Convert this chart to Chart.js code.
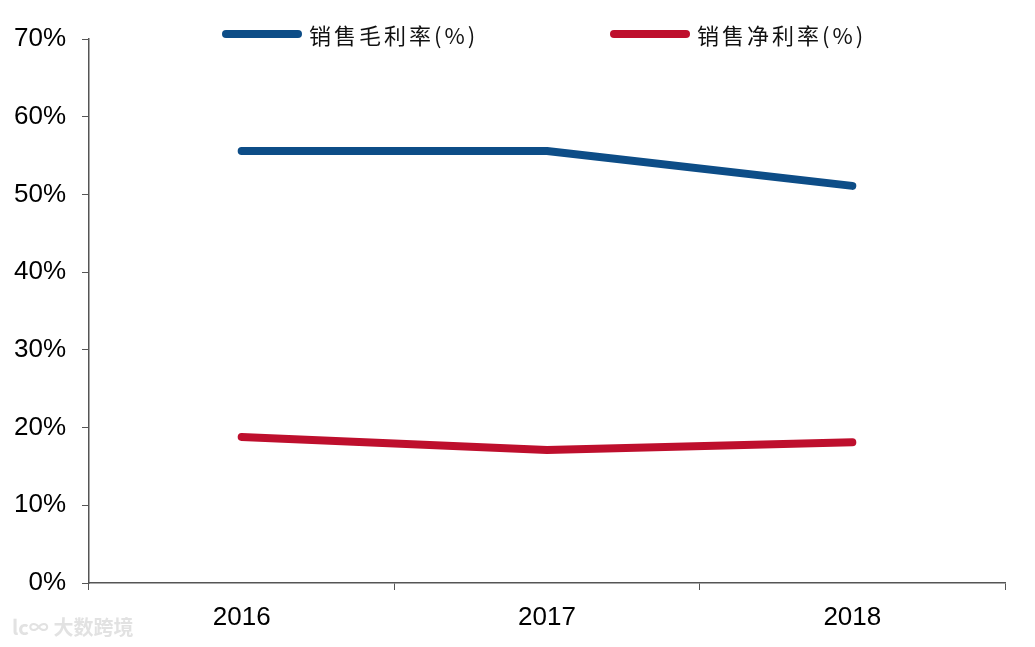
<!DOCTYPE html>
<html>
<head>
<meta charset="utf-8">
<script src="https://cdn.jsdelivr.net/npm/chart.js@4"></script>
<style>
  body { margin: 0; background: #fff; }
  #wrap { position: relative; width: 1035px; height: 647px; }
  .legend { position: absolute; top: 18px; display: flex; align-items: center; font-family: "Noto Sans CJK SC", sans-serif; font-size: 22px; letter-spacing: 3px; color: #111; }
  .legend span.swatch { display: inline-block; width: 80px; height: 8px; border-radius: 4px; margin-right: 7px; }
  .mark { position: absolute; left: 12px; top: 612px; font-family: "Noto Sans CJK SC", sans-serif; font-size: 20px; color: #e2e2e2; font-weight: bold; }
</style>
</head>
<body>
<div id="wrap">
  <canvas id="myChart" width="1035" height="647"></canvas>
  <div class="legend" style="left:222px"><span class="swatch" style="background:#0d4d87"></span>销售毛利率(%)</div>
  <div class="legend" style="left:610px"><span class="swatch" style="background:#be0f2d"></span>销售净利率(%)</div>
  <div class="mark">lc∞ 大数跨境</div>
</div>
<script>
// data
const years = ['2016', '2017', '2018'];
const grossMargin = [55.6, 55.6, 51.1];
const netMargin = [18.8, 17.1, 18.1];

const ctx = document.getElementById('myChart').getContext('2d');

const chart = new Chart(ctx, {
  type: 'line',
  data: {
    labels: years,
    datasets: [{
      label: '销售毛利率(%)',
      data: grossMargin,
      borderColor: '#0d4d87',
      backgroundColor: '#0d4d87',
      borderWidth: 8,
      borderCapStyle: 'round',
      borderJoinStyle: 'round',
      pointRadius: 0,
      tension: 0
    },
    {
      label: '销售净利率(%)',
      data: netMargin,
      borderColor: '#be0f2d',
      backgroundColor: '#be0f2d',
      borderWidth: 8,
      borderCapStyle: 'round',
      borderJoinStyle: 'round',
      pointRadius: 0,
      tension: 0
    }]
  },
  options: {
    responsive: false,
    animation: false,
    layout: { padding: { left: 0, right: 30, top: 39, bottom: 0 } },
    plugins: {
      legend: { display: false },
      tooltip: { enabled: false }
    },
    scales: {
      x: {
        offset: true,
        grid: { offset: true, drawOnChartArea: false, drawTicks: true, tickLength: 7, color: '#555' },
        border: { color: '#555', width: 1.5 },
        ticks: { color: '#000', padding: 12, font: { family: 'Liberation Sans', size: 26 } },
        afterFit: function(scale) { scale.height = 64; }
      },
      y: {
        min: 0,
        max: 70,
        grid: { drawOnChartArea: false, drawTicks: true, tickLength: 7, color: '#555' },
        border: { color: '#555', width: 1.5 },
        ticks: {
          stepSize: 10,
          color: '#000',
          padding: 16,
          font: { family: 'Liberation Sans', size: 26 },
          callback: function(v) { return v + '%'; }
        },
        afterFit: function(scale) { scale.width = 89; }
      }
    }
  }
});
</script>
</body>
</html>
